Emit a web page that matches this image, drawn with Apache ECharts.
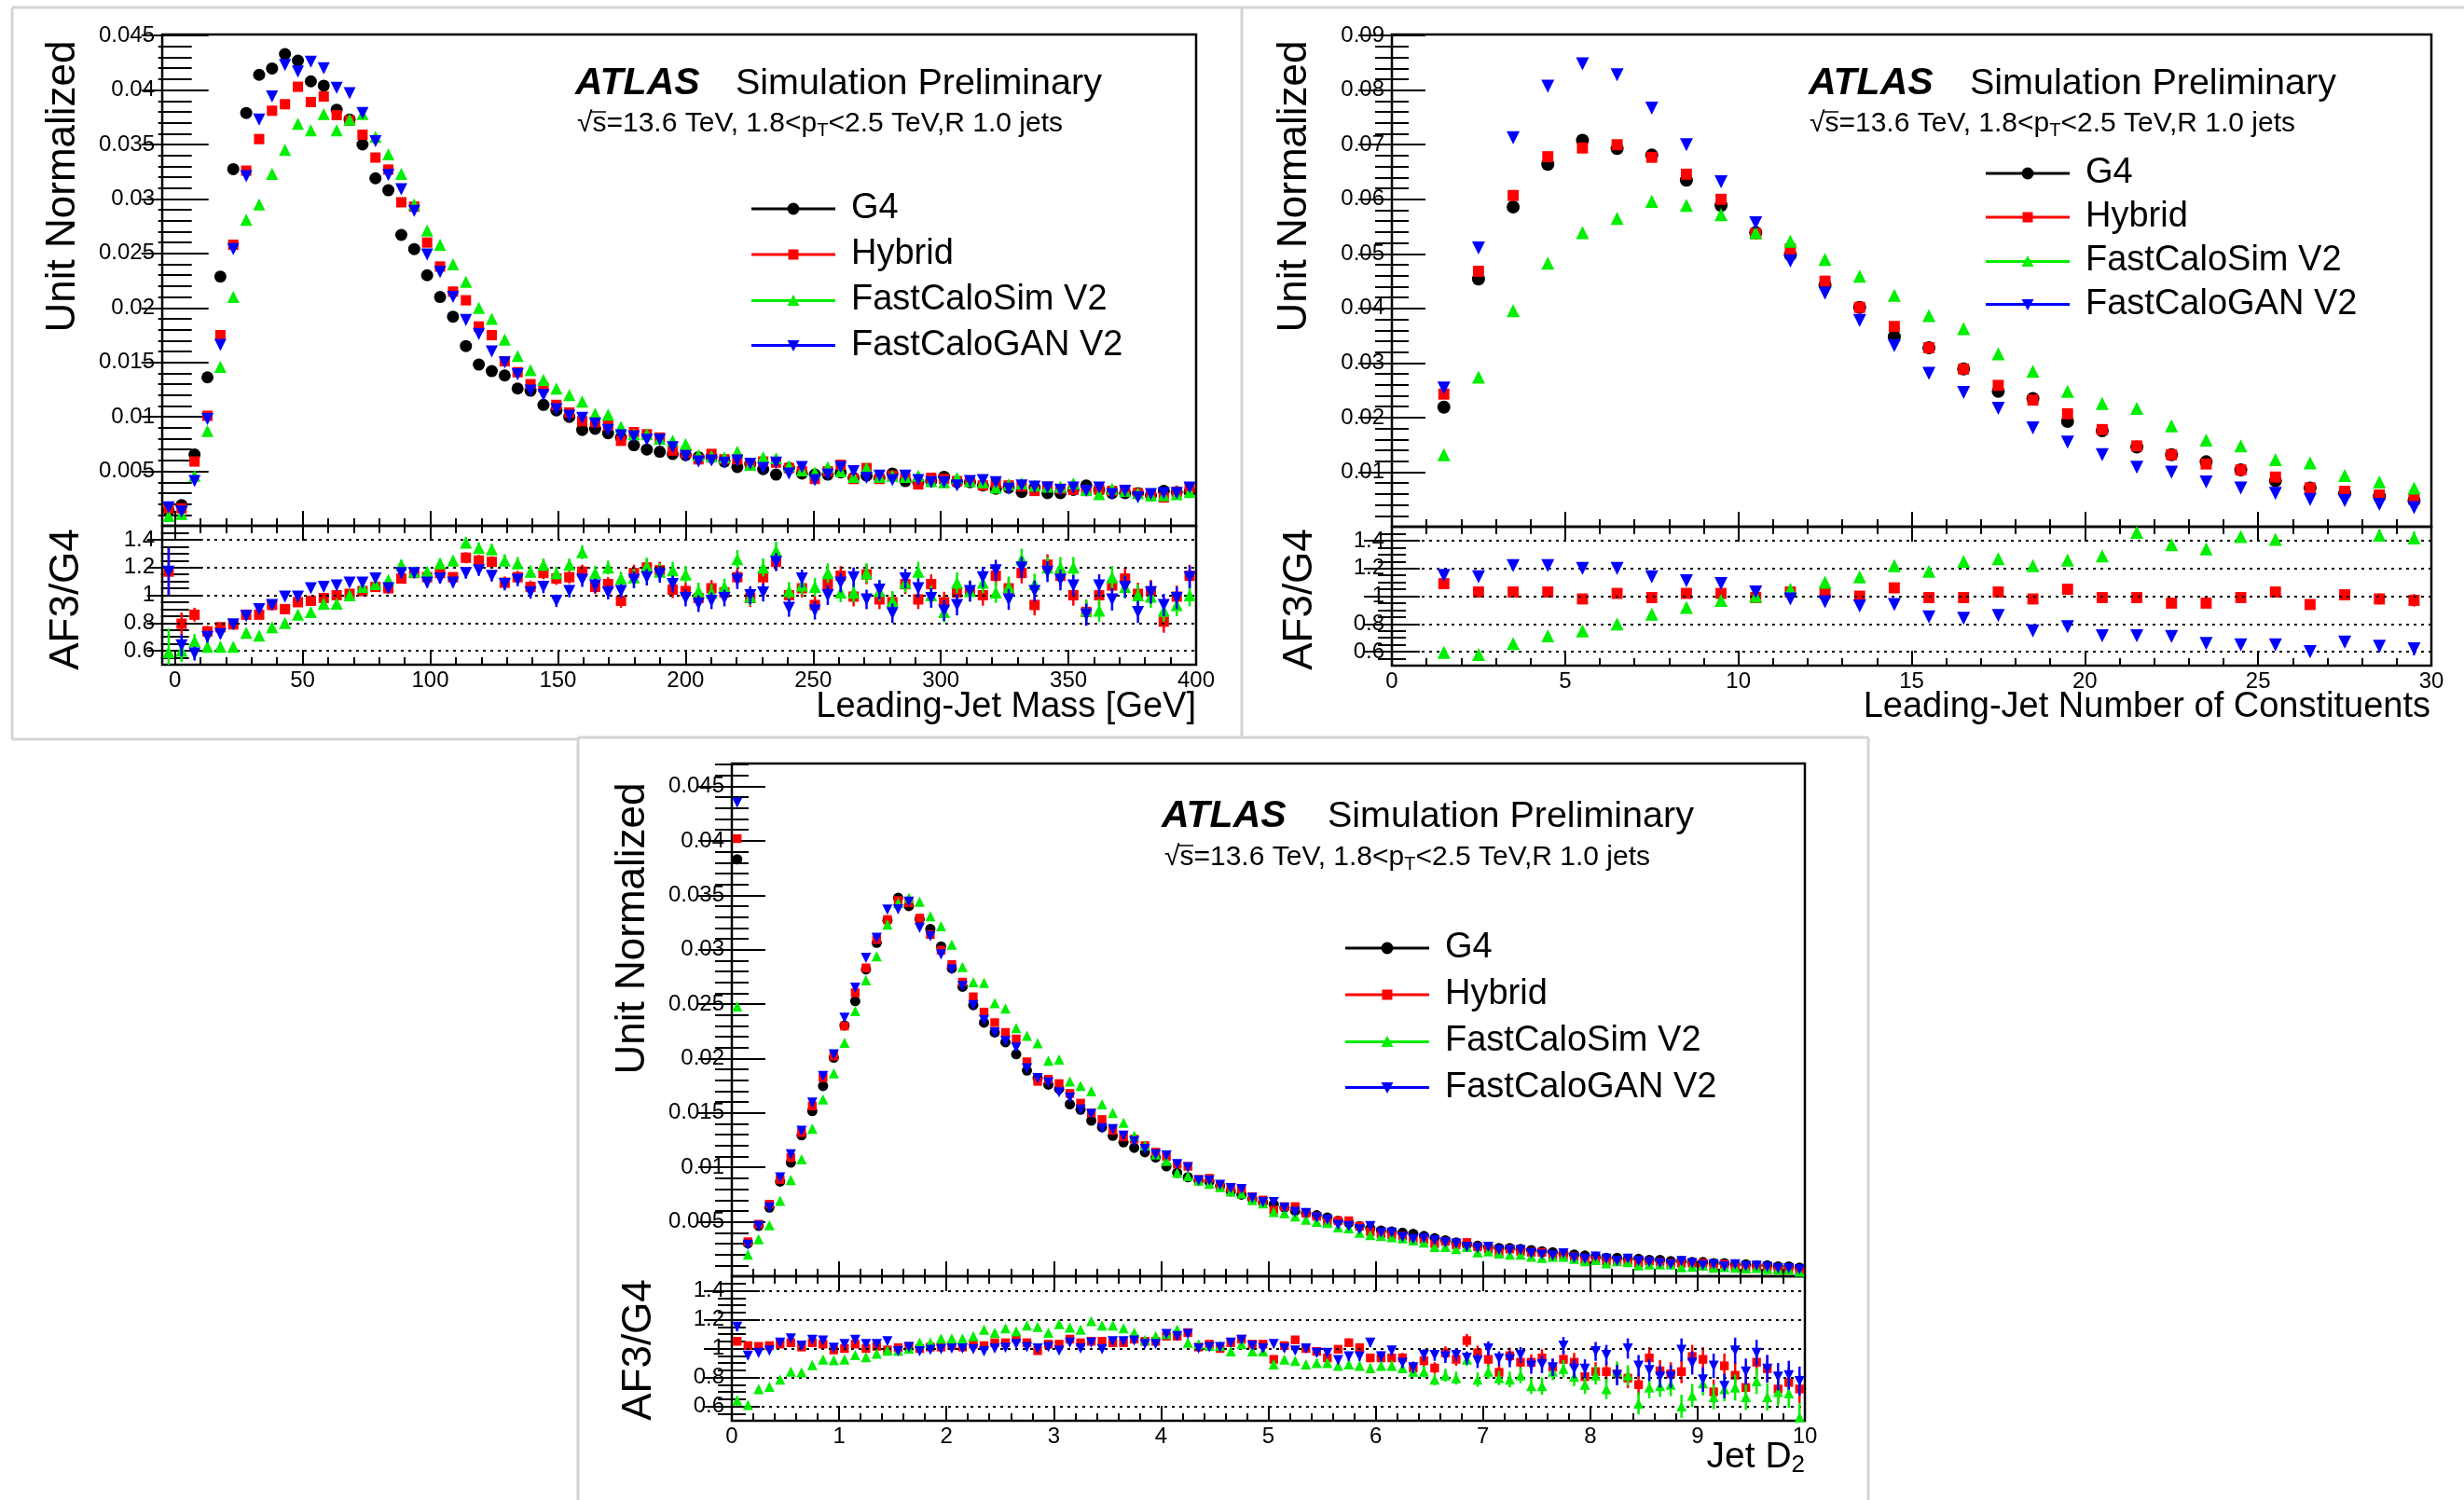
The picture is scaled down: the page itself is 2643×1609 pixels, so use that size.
<!DOCTYPE html>
<html><head><meta charset="utf-8">
<script src="https://cdn.jsdelivr.net/npm/echarts@6/dist/echarts.min.js"></script>
<style>html,body{margin:0;padding:0;background:#fff}#c{width:2643px;height:1609px}</style>
</head><body><div id="c"></div>
<script>
// ---------------- DATA ----------------
const seriesNames = ['G4', 'Hybrid', 'FastCaloSim V2', 'FastCaloGAN V2'];

// Leading-jet mass (bin centres, GeV)
const massX = [-2.47,2.59,7.66,12.72,17.78,22.84,27.91,32.97,38.03,43.09,
48.16,53.22,58.28,63.34,68.41,73.47,78.53,83.59,88.66,93.72,
98.78,103.84,108.91,113.97,119.03,124.09,129.16,134.22,139.28,144.34,
149.41,154.47,159.53,164.59,169.66,174.72,179.78,184.84,189.91,194.97,
200.03,205.09,210.16,215.22,220.28,225.34,230.41,235.47,240.53,245.59,
250.66,255.72,260.78,265.84,270.91,275.97,281.03,286.09,291.16,296.22,
301.28,306.34,311.41,316.47,321.53,326.59,331.66,336.72,341.78,346.84,
351.91,356.97,362.03,367.09,372.16,377.22,382.28,387.34,392.41,397.47];
const massG4 = [0.0014,0.0019,0.00654,0.01363,0.02288,0.03274,0.0379,0.0414,0.04198,0.0433,
0.0427,0.0408,0.0404,0.0382,0.0373,0.0350,0.0319,0.0308,0.0267,0.0254,
0.0230,0.0210,0.0192,0.0165,0.0148,0.0142,0.0138,0.0126,0.0124,0.0111,
0.0106,0.0100,0.0088,0.0089,0.0085,0.0081,0.0074,0.0070,0.0068,0.0066,
0.0065,0.0063,0.0063,0.0059,0.0054,0.0057,0.0052,0.0047,0.0053,0.0048,
0.0047,0.0047,0.0049,0.0044,0.0046,0.0044,0.0048,0.0041,0.0040,0.0041,
0.0045,0.0040,0.0040,0.0037,0.0034,0.0035,0.0031,0.0035,0.0030,0.0030,
0.0033,0.0037,0.0033,0.0030,0.0030,0.0030,0.0028,0.0032,0.0031,0.0031];
const massHybrid = [0.0016,0.0016,0.0059,0.0101,0.0175,0.0258,0.0326,0.0355,0.0381,0.0387,
0.0403,0.0389,0.0394,0.0377,0.0372,0.0359,0.0338,0.0327,0.0297,0.0293,
0.0260,0.0238,0.0215,0.0207,0.0183,0.0175,0.0151,0.0141,0.0130,0.0127,
0.0111,0.0104,0.0096,0.0095,0.0092,0.0078,0.0086,0.0084,0.0081,0.0069,
0.0067,0.0061,0.0066,0.0061,0.0061,0.0056,0.0059,0.0058,0.0053,0.0050,
0.0043,0.0050,0.0056,0.0043,0.0053,0.0043,0.0046,0.0044,0.0038,0.0044,
0.0043,0.0041,0.0041,0.0037,0.0039,0.0037,0.0036,0.0032,0.0036,0.0034,
0.0033,0.0032,0.0033,0.0032,0.0033,0.0030,0.0029,0.0026,0.0031,0.0035];
const massFCS = [0.0009,0.0011,0.0046,0.0087,0.0146,0.0210,0.0281,0.0295,0.0323,0.0345,
0.0369,0.0363,0.0378,0.0363,0.0373,0.0378,0.0357,0.0341,0.0323,0.0295,
0.0271,0.0258,0.0240,0.0224,0.0200,0.0190,0.0171,0.0156,0.0143,0.0134,
0.0126,0.0120,0.0114,0.0103,0.0102,0.0091,0.0084,0.0084,0.0080,0.0078,
0.0075,0.0065,0.0064,0.0063,0.0068,0.0056,0.0063,0.0062,0.0055,0.0051,
0.0049,0.0054,0.0050,0.0045,0.0053,0.0045,0.0046,0.0045,0.0046,0.0041,
0.0040,0.0044,0.0041,0.0040,0.0035,0.0038,0.0039,0.0037,0.0036,0.0036,
0.0039,0.0033,0.0029,0.0034,0.0032,0.0030,0.0028,0.0028,0.0029,0.0031];
const massGAN = [0.0017,0.0013,0.0041,0.0098,0.0166,0.0254,0.0321,0.0373,0.0394,0.0423,
0.0417,0.0426,0.0420,0.0402,0.0397,0.0379,0.0353,0.0322,0.0309,0.0289,
0.0249,0.0233,0.0210,0.0189,0.0176,0.0160,0.0150,0.0139,0.0124,0.0120,
0.0107,0.0101,0.0099,0.0094,0.0088,0.0083,0.0082,0.0079,0.0079,0.0072,
0.0064,0.0059,0.0060,0.0058,0.0060,0.0057,0.0053,0.0058,0.0048,0.0054,
0.0042,0.0047,0.0054,0.0050,0.0044,0.0046,0.0042,0.0046,0.0042,0.0040,
0.0040,0.0037,0.0041,0.0042,0.0040,0.0034,0.0037,0.0036,0.0035,0.0033,
0.0035,0.0032,0.0035,0.0029,0.0032,0.0026,0.0029,0.0030,0.0030,0.0035];
const massRatioHybrid = [1.17,0.795,0.86,0.74,0.77,0.79,0.86,0.86,0.93,0.90,
0.95,0.96,0.98,1.0,1.01,1.03,1.06,1.05,1.12,1.16,
1.13,1.16,1.13,1.27,1.25,1.24,1.09,1.13,1.06,1.16,
1.12,1.13,1.17,1.06,1.08,0.96,1.16,1.20,1.18,1.04,
1.03,0.98,1.05,1.02,1.13,0.98,1.13,1.24,1.0,1.05,
0.93,1.08,1.14,0.99,1.15,0.97,0.95,1.08,0.97,1.08,
0.95,1.02,1.03,1.0,1.14,1.05,1.16,0.93,1.22,1.14,
1.0,0.88,1.0,1.07,1.12,1.01,1.03,0.81,0.99,1.14];
const massRatioFCS = [0.59,0.60,0.67,0.63,0.63,0.63,0.73,0.71,0.77,0.80,
0.86,0.88,0.94,0.94,1.0,1.06,1.08,1.11,1.22,1.17,
1.17,1.23,1.25,1.38,1.34,1.33,1.25,1.23,1.17,1.22,
1.16,1.22,1.31,1.16,1.20,1.12,1.13,1.21,1.17,1.18,
1.15,1.03,1.02,1.06,1.26,0.99,1.20,1.32,1.03,1.07,
1.06,1.16,1.02,1.02,1.16,1.03,0.96,1.09,1.17,1.0,
0.88,1.09,1.03,1.09,1.02,1.06,1.26,1.08,1.20,1.20,
1.20,0.89,0.89,1.13,1.06,1.0,0.99,0.89,0.93,1.0];
const massRatioGAN = [1.17,0.64,0.58,0.70,0.72,0.79,0.85,0.90,0.93,0.99,
0.99,1.05,1.06,1.07,1.09,1.09,1.12,1.05,1.16,1.16,
1.09,1.12,1.09,1.16,1.18,1.14,1.08,1.11,1.02,1.06,
0.96,1.03,1.11,1.07,1.02,1.03,1.11,1.13,1.15,1.08,
0.98,0.94,0.96,0.98,1.11,1.0,1.02,1.24,0.91,1.12,
0.89,1.0,1.09,1.13,0.97,1.04,0.87,1.12,1.05,0.98,
0.89,0.93,1.03,1.13,1.18,0.97,1.20,1.03,1.17,1.11,
1.07,0.86,1.07,0.97,1.06,0.88,1.02,0.93,0.98,1.13];
// estimated half-length of the ratio error bars
const massRatioErr = [0.17,0.08,0.05,0.04,0.03,0.025,0.025,0.025,0.025,0.025,
0.025,0.025,0.025,0.025,0.025,0.025,0.025,0.025,0.035,0.035,
0.035,0.035,0.035,0.04,0.04,0.04,0.045,0.045,0.045,0.045,
0.045,0.045,0.05,0.05,0.05,0.05,0.06,0.06,0.06,0.06,
0.06,0.06,0.06,0.06,0.065,0.065,0.065,0.065,0.065,0.065,
0.065,0.07,0.07,0.07,0.07,0.07,0.07,0.07,0.07,0.07,
0.075,0.075,0.075,0.075,0.075,0.075,0.075,0.075,0.075,0.075,
0.075,0.08,0.08,0.08,0.08,0.08,0.08,0.08,0.08,0.08];

// Leading-jet number of constituents
const consX = [1.5,2.5,3.5,4.5,5.5,6.5,7.5,8.5,9.5,10.5,11.5,12.5,13.5,14.5,15.5,16.5,17.5,18.5,19.5,20.5,21.5,22.5,23.5,24.5,25.5,26.5,27.5,28.5,29.5];
const consG4 = [0.0219,0.0454,0.0586,0.0664,0.0708,0.0693,0.0681,0.0635,0.0589,0.0539,0.0498,0.0443,0.0402,0.0348,0.0328,0.0289,0.0248,0.0235,0.0193,0.0176,0.0146,0.0132,0.0119,0.0104,0.0084,0.0071,0.0061,0.0056,0.0048];
const consHybrid = [0.0243,0.0468,0.0607,0.0678,0.0694,0.0700,0.0677,0.0646,0.0600,0.0537,0.0509,0.0450,0.0402,0.0367,0.0328,0.0289,0.0259,0.0232,0.0207,0.0178,0.0148,0.0132,0.0115,0.0104,0.0091,0.0071,0.0065,0.0058,0.0050];
const consFCS = [0.0132,0.0274,0.0396,0.0483,0.0539,0.0565,0.0596,0.0589,0.0572,0.0539,0.0523,0.0490,0.0459,0.0424,0.0387,0.0363,0.0317,0.0285,0.0248,0.0226,0.0217,0.0185,0.0159,0.0148,0.0123,0.0117,0.0094,0.0082,0.0071];
const consGAN = [0.0254,0.0511,0.0713,0.0807,0.0848,0.0828,0.0767,0.0700,0.0632,0.0557,0.0487,0.0428,0.0378,0.0332,0.0281,0.0246,0.0217,0.0181,0.0155,0.0132,0.0109,0.0100,0.0082,0.0071,0.0061,0.0050,0.0048,0.0041,0.0035];
const consRatioHybrid = [1.09,1.03,1.03,1.03,0.98,1.02,0.99,1.02,1.02,0.99,1.03,1.02,1.0,1.06,0.99,0.99,1.03,0.98,1.05,0.99,0.99,0.95,0.95,0.99,1.03,0.94,1.01,0.98,0.97];
const consRatioFCS = [0.595,0.58,0.66,0.715,0.75,0.80,0.87,0.92,0.97,1.0,1.05,1.10,1.14,1.22,1.18,1.25,1.27,1.22,1.26,1.29,1.46,1.37,1.34,1.43,1.41,1.65,1.54,1.44,1.42];
const consRatioGAN = [1.15,1.14,1.22,1.22,1.20,1.20,1.14,1.11,1.09,1.03,0.98,0.96,0.93,0.94,0.85,0.84,0.86,0.75,0.78,0.715,0.715,0.71,0.66,0.65,0.65,0.60,0.67,0.64,0.62];
const consRatioErr = [0.02,0.015,0.01,0.01,0.01,0.01,0.01,0.01,0.01,0.01,0.01,0.01,0.01,0.01,0.012,0.012,0.015,0.015,0.015,0.02,0.02,0.02,0.025,0.025,0.03,0.035,0.035,0.04,0.045];

// Jet D2
const d2X = [0.05,0.15,0.25,0.35,0.45,0.55,0.65,0.75,0.85,0.95,
1.05,1.15,1.25,1.35,1.45,1.55,1.65,1.75,1.85,1.95,
2.05,2.15,2.25,2.35,2.45,2.55,2.65,2.75,2.85,2.95,
3.05,3.15,3.25,3.35,3.45,3.55,3.65,3.75,3.85,3.95,
4.05,4.15,4.25,4.35,4.45,4.55,4.65,4.75,4.85,4.95,
5.05,5.15,5.25,5.35,5.45,5.55,5.65,5.75,5.85,5.95,
6.05,6.15,6.25,6.35,6.45,6.55,6.65,6.75,6.85,6.95,
7.05,7.15,7.25,7.35,7.45,7.55,7.65,7.75,7.85,7.95,
8.05,8.15,8.25,8.35,8.45,8.55,8.65,8.75,8.85,8.95,
9.05,9.15,9.25,9.35,9.45,9.55,9.65,9.75,9.85,9.95];
const d2G4 = [0.0383,0.00304,0.00463,0.00631,0.0087,0.01044,0.01295,0.01518,0.01748,0.02008,
0.02304,0.02528,0.02818,0.03063,0.0327,0.03476,0.0340,0.0328,0.0319,0.0303,
0.0283,0.0266,0.0249,0.0233,0.0224,0.0215,0.0204,0.0189,0.0182,0.0176,
0.0172,0.0158,0.0153,0.0143,0.0137,0.0129,0.0123,0.0118,0.0114,0.0109,
0.0101,0.0095,0.0091,0.0088,0.0087,0.0083,0.0078,0.0075,0.0071,0.0068,
0.0066,0.0063,0.0060,0.0058,0.0056,0.0054,0.0051,0.0049,0.0046,0.0044,
0.0042,0.0041,0.0040,0.0039,0.0037,0.0035,0.0033,0.0031,0.0029,0.0028,
0.0027,0.0026,0.0026,0.0025,0.0024,0.0023,0.0022,0.0021,0.0020,0.0019,
0.0018,0.0017,0.0017,0.0016,0.0016,0.0015,0.0015,0.0014,0.0014,0.0013,
0.0013,0.0012,0.0012,0.0011,0.0011,0.0010,0.0010,0.0009,0.0009,0.0008];
const d2Hybrid = [0.0402,0.00317,0.00478,0.00662,0.0089,0.0109,0.0132,0.01564,0.01824,0.02023,
0.02298,0.02604,0.02833,0.03093,0.03277,0.03451,0.0343,0.0329,0.03139,0.02995,
0.02864,0.02702,0.02567,0.02427,0.0233,0.0224,0.0218,0.0197,0.0179,0.0181,
0.0177,0.0168,0.0159,0.0150,0.0144,0.0134,0.0128,0.0126,0.0120,0.0114,
0.0110,0.0103,0.0101,0.0089,0.0090,0.0083,0.0081,0.0080,0.0073,0.0070,
0.0061,0.0064,0.0064,0.0058,0.0055,0.0050,0.0051,0.0051,0.0046,0.0041,
0.0039,0.0038,0.0037,0.0034,0.0034,0.0030,0.0032,0.0029,0.0031,0.0027,
0.0025,0.0022,0.0025,0.0023,0.0022,0.0022,0.0019,0.0019,0.0018,0.0015,
0.0015,0.0014,0.0014,0.0013,0.0012,0.0014,0.0013,0.0012,0.0012,0.0012,
0.0012,0.00084,0.0011,0.0009,0.0008,0.0009,0.00086,0.00065,0.00069,0.00058];
const d2FCS = [0.0248,0.0020,0.00341,0.00469,0.00693,0.00885,0.01075,0.01356,0.01625,0.01864,
0.02145,0.02436,0.0272,0.0294,0.03231,0.0343,0.03476,0.0344,0.03307,0.03216,
0.03047,0.02842,0.02702,0.02696,0.0251,0.0246,0.0228,0.0221,0.0214,0.0198,
0.0199,0.0179,0.0175,0.0170,0.0158,0.0150,0.0141,0.0129,0.0120,0.0112,
0.0106,0.0095,0.0092,0.0088,0.0085,0.0082,0.0078,0.0076,0.0070,0.0067,
0.0059,0.0058,0.0055,0.0052,0.0050,0.0049,0.0045,0.0044,0.0040,0.0038,
0.0037,0.0036,0.0035,0.0033,0.0031,0.0027,0.0027,0.0025,0.0027,0.0022,
0.0023,0.0021,0.0020,0.0020,0.0018,0.0017,0.0018,0.0018,0.0016,0.0014,
0.0015,0.0012,0.0014,0.0013,0.0010,0.0011,0.0011,0.0011,0.00084,0.00088,
0.00099,0.0008,0.00086,0.0008,0.00073,0.00078,0.00067,0.00063,0.00062,0.00042];
const d2GAN = [0.0435,0.0029,0.00463,0.00631,0.00907,0.0112,0.01335,0.01595,0.0184,0.02038,
0.02375,0.0265,0.02925,0.03109,0.03368,0.0337,0.0344,0.0320,0.03124,0.02956,
0.02818,0.02665,0.0249,0.02353,0.0224,0.0216,0.0210,0.0191,0.0182,0.0178,
0.0169,0.0164,0.0153,0.0149,0.0136,0.0135,0.0129,0.0124,0.0117,0.0112,
0.0111,0.0103,0.0100,0.0088,0.0088,0.0084,0.0081,0.0080,0.0072,0.0068,
0.0068,0.0063,0.0059,0.0058,0.0054,0.0052,0.0047,0.0046,0.0043,0.0046,
0.0040,0.0040,0.0036,0.0034,0.0035,0.0033,0.0031,0.0030,0.0027,0.0026,
0.0027,0.0024,0.0024,0.0024,0.0021,0.0020,0.0019,0.0021,0.0017,0.0016,
0.0018,0.0016,0.0014,0.0016,0.0014,0.0013,0.0012,0.0011,0.0014,0.0012,
0.0010,0.0011,0.00089,0.0011,0.00092,0.00097,0.00086,0.00072,0.00073,0.00062];
const d2RatioHybrid = [1.05,1.02,1.015,1.02,1.03,1.04,1.01,1.04,1.03,0.99,
1.0,1.03,1.0,1.015,0.99,1.006,1.015,1.0,1.01,1.01,
1.02,1.01,1.03,1.02,1.04,1.04,1.07,1.04,0.985,1.03,
1.03,1.065,1.04,1.05,1.05,1.04,1.04,1.065,1.05,1.05,
1.085,1.085,1.11,1.01,1.03,1.0,1.04,1.065,1.03,1.03,
0.925,1.02,1.06,1.0,0.98,0.935,0.995,1.04,1.006,0.935,
0.935,0.935,0.935,0.865,0.915,0.865,0.97,0.925,1.055,0.97,
0.925,0.835,0.95,0.905,0.905,0.935,0.87,0.925,0.905,0.805,
0.84,0.84,0.825,0.795,0.75,0.935,0.845,0.825,0.84,0.945,
0.925,0.70,0.88,0.815,0.73,0.905,0.86,0.72,0.765,0.72];
const d2RatioFCS = [0.64,0.61,0.72,0.735,0.785,0.84,0.835,0.885,0.925,0.92,
0.925,0.955,0.94,0.965,0.985,0.985,1.0,1.04,1.04,1.07,
1.07,1.07,1.085,1.13,1.11,1.14,1.12,1.16,1.15,1.11,
1.17,1.145,1.13,1.19,1.16,1.16,1.14,1.11,1.06,1.085,
1.10,1.13,1.04,1.03,1.02,1.02,0.98,1.03,0.98,0.98,
0.89,0.925,0.915,0.89,0.90,0.90,0.88,0.89,0.88,0.865,
0.88,0.88,0.865,0.84,0.84,0.785,0.815,0.795,0.925,0.785,
0.84,0.795,0.785,0.815,0.74,0.74,0.84,0.86,0.805,0.75,
0.815,0.72,0.84,0.815,0.62,0.73,0.74,0.75,0.60,0.675,
0.76,0.665,0.72,0.73,0.665,0.775,0.665,0.70,0.69,0.525];
const d2RatioGAN = [1.15,0.95,0.97,0.985,1.04,1.07,1.02,1.06,1.055,1.005,
1.03,1.06,1.03,1.03,1.05,0.98,1.01,0.98,0.99,0.995,
1.0,1.0,0.995,0.98,1.0,1.005,1.03,1.01,1.0,1.01,
0.985,1.04,1.0,1.04,0.995,1.05,1.05,1.055,1.03,1.03,
1.10,1.085,1.10,1.0,1.01,1.01,1.04,1.06,1.02,1.0,
1.03,1.0,0.985,1.0,0.97,0.97,0.92,0.945,0.945,1.04,
0.945,0.985,0.90,0.87,0.955,0.955,0.945,0.955,0.935,0.915,
1.0,0.93,0.925,0.955,0.88,0.89,0.87,1.02,0.86,0.86,
0.98,0.955,0.815,1.0,0.88,0.85,0.805,0.805,0.99,0.90,
0.785,0.88,0.74,0.985,0.84,0.97,0.86,0.805,0.815,0.775];
const d2RatioErr = [0.03,0.02,0.015,0.015,0.01,0.01,0.01,0.01,0.01,0.01,
0.01,0.01,0.01,0.01,0.01,0.01,0.01,0.01,0.01,0.01,
0.01,0.01,0.01,0.01,0.01,0.01,0.01,0.01,0.01,0.01,
0.012,0.012,0.012,0.012,0.012,0.012,0.012,0.012,0.012,0.012,
0.015,0.015,0.015,0.015,0.015,0.015,0.015,0.015,0.015,0.015,
0.02,0.02,0.02,0.02,0.025,0.025,0.025,0.03,0.03,0.03,
0.035,0.035,0.035,0.04,0.04,0.04,0.045,0.045,0.045,0.05,
0.05,0.05,0.055,0.055,0.055,0.06,0.06,0.06,0.065,0.065,
0.065,0.07,0.07,0.07,0.075,0.075,0.075,0.08,0.08,0.08,
0.085,0.085,0.085,0.09,0.09,0.09,0.095,0.095,0.1,0.1];

// Tick labels
const massXTicks = [0,50,100,150,200,250,300,350,400];
const consXTicks = [0,5,10,15,20,25,30];
const d2XTicks = [0,1,2,3,4,5,6,7,8,9,10];
const yTicks045 = [0.005,0.01,0.015,0.02,0.025,0.03,0.035,0.04,0.045];
const yTicks09 = [0.01,0.02,0.03,0.04,0.05,0.06,0.07,0.08,0.09];
const ratioTicks = [0.6,0.8,1,1.2,1.4];

// ---------------- STYLE ----------------
const FONT = '"Liberation Sans", Arial, Helvetica, sans-serif';
const COLORS = ['#000000', '#ff0000', '#00ee00', '#0000ff'];
const SYMS = ['circle', 'rect', 'triangle', 'triangle'];
const ROT = [0, 0, 0, 180];
const SIZEF = [1.0, 0.85, 1.0, 1.0];

function steps(a, b, s, exclude) {
  const out = [];
  for (let v = a; v <= b + s * 1e-6; v += s) {
    const r = Math.round(v * 1e6) / 1e6;
    if (!exclude || !exclude.some(e => Math.abs(e - r) < s * 1e-3)) out.push(r);
  }
  return out;
}
const fmtNum = v => String(parseFloat(Number(v).toFixed(4)));

const grids = [], xAxes = [], yAxes = [], series = [];

function axis(isX, gi, pos, min, max, ticks, len, labels, margin) {
  const a = {
    type: 'value', gridIndex: gi, position: pos, min: min, max: max,
    axisLine: { show: false }, splitLine: { show: false },
    minorTick: { show: false }, minorSplitLine: { show: false },
    axisTick: { show: true, inside: true, length: len, customValues: ticks, lineStyle: { color: '#000', width: 2 } },
    axisLabel: labels ? { show: true, customValues: labels, formatter: fmtNum, color: '#000', fontSize: 24, fontFamily: FONT, margin: margin } : { show: false },
    silent: true
  };
  const arr = isX ? xAxes : yAxes;
  arr.push(a);
  return arr.length - 1;
}

function plot(p) {
  const gi = grids.length;
  grids.push({ left: p.left, top: p.top, width: p.width, height: p.height, show: true,
    borderColor: '#000', borderWidth: 2.5, backgroundColor: 'rgba(0,0,0,0)' });
  const xi = axis(true, gi, 'bottom', p.xMin, p.xMax, p.xMaj, p.xLen, p.xLabels ? p.xMaj : null, 5);
  axis(true, gi, 'bottom', p.xMin, p.xMax, p.xMinr, p.xLen / 2, null);
  axis(true, gi, 'top', p.xMin, p.xMax, p.xMaj, p.xLen, null);
  axis(true, gi, 'top', p.xMin, p.xMax, p.xMinr, p.xLen / 2, null);
  const yi = axis(false, gi, 'left', p.yMin, p.yMax, p.yMaj, p.yLen, p.yMaj, 8);
  axis(false, gi, 'left', p.yMin, p.yMax, p.yMinr, p.yLen / 2, null);
  axis(false, gi, 'right', p.yMin, p.yMax, p.yMaj, p.yLen, null);
  axis(false, gi, 'right', p.yMin, p.yMax, p.yMinr, p.yLen / 2, null);
  return { xi: xi, yi: yi };
}

function addErr(ax, xs, ys, errs, idx) {
  series.push({
    type: 'custom', name: '_err', xAxisIndex: ax.xi, yAxisIndex: ax.yi, silent: true, clip: true, z: 3 + idx,
    data: xs.map((x, i) => [x, ys[i], errs[i]]),
    encode: { x: 0, y: 1 },
    renderItem: function (params, api) {
      const x = api.value(0), y = api.value(1), e = api.value(2);
      const a = api.coord([x, y - e]), b = api.coord([x, y + e]);
      return { type: 'line', shape: { x1: a[0], y1: a[1], x2: b[0], y2: b[1] }, style: { stroke: COLORS[idx], lineWidth: 2.5 } };
    }
  });
}
function addSeries(ax, xs, ys, idx, size) {
  series.push({
    type: 'scatter', name: seriesNames[idx], xAxisIndex: ax.xi, yAxisIndex: ax.yi,
    data: xs.map((x, i) => [x, ys[i]]),
    symbol: SYMS[idx], symbolRotate: ROT[idx], symbolSize: size * SIZEF[idx],
    itemStyle: { color: COLORS[idx], opacity: 1 }, z: 3 + idx, clip: true, silent: true,
    emphasis: { disabled: true }
  });
}
function addRatioLines(ax) {
  series.push({
    type: 'scatter', name: '_grid', xAxisIndex: ax.xi, yAxisIndex: ax.yi, data: [], z: 1, silent: true,
    markLine: { silent: true, symbol: ['none', 'none'], label: { show: false }, animation: false,
      lineStyle: { color: '#000', type: [3, 5], width: 2 },
      data: ratioTicks.map(v => ({ yAxis: v })) }
  });
}

// ---- Panel 1: mass ----
const massXMinor = steps(10, 390, 10, massXTicks);
const p1m = plot({ left: 174, top: 37, width: 1109, height: 527, xMin: -5, xMax: 400, xMaj: massXTicks, xMinr: massXMinor, xLen: 16, xLabels: false,
  yMin: 0, yMax: 0.0451, yMaj: yTicks045, yMinr: steps(0.001, 0.045, 0.001, yTicks045), yLen: 36 });
const p1r = plot({ left: 174, top: 564, width: 1109, height: 149, xMin: -5, xMax: 400, xMaj: massXTicks, xMinr: massXMinor, xLen: 16, xLabels: true,
  yMin: 0.5, yMax: 1.5, yMaj: ratioTicks, yMinr: steps(0.55, 1.45, 0.05, ratioTicks), yLen: 30 });
// ---- Panel 2: constituents ----
const consXMinor = steps(1, 29, 1, consXTicks);
const p2m = plot({ left: 1493, top: 37, width: 1115, height: 528, xMin: 0, xMax: 30, xMaj: consXTicks, xMinr: consXMinor, xLen: 16, xLabels: false,
  yMin: 0, yMax: 0.0902, yMaj: yTicks09, yMinr: steps(0.002, 0.09, 0.002, yTicks09), yLen: 36 });
const p2r = plot({ left: 1493, top: 565, width: 1115, height: 149, xMin: 0, xMax: 30, xMaj: consXTicks, xMinr: consXMinor, xLen: 16, xLabels: true,
  yMin: 0.5, yMax: 1.5, yMaj: ratioTicks, yMinr: steps(0.55, 1.45, 0.05, ratioTicks), yLen: 30 });
// ---- Panel 3: D2 ----
const d2XMinor = steps(0.2, 9.8, 0.2, d2XTicks);
const p3m = plot({ left: 785, top: 819, width: 1151, height: 550, xMin: 0, xMax: 10, xMaj: d2XTicks, xMinr: d2XMinor, xLen: 16, xLabels: false,
  yMin: 0, yMax: 0.0471, yMaj: yTicks045, yMinr: steps(0.001, 0.047, 0.001, yTicks045), yLen: 36 });
const p3r = plot({ left: 785, top: 1369, width: 1151, height: 155, xMin: 0, xMax: 10, xMaj: d2XTicks, xMinr: d2XMinor, xLen: 16, xLabels: true,
  yMin: 0.5, yMax: 1.5, yMaj: ratioTicks, yMinr: steps(0.55, 1.45, 0.05, ratioTicks), yLen: 30 });

addRatioLines(p1r); addRatioLines(p2r); addRatioLines(p3r);

[massG4, massHybrid, massFCS, massGAN].forEach((ys, i) => addSeries(p1m, massX, ys, i, 13));
[massRatioHybrid, massRatioFCS, massRatioGAN].forEach((ys, i) => { addErr(p1r, massX, ys, massRatioErr, i + 1); addSeries(p1r, massX, ys, i + 1, 13); });
[consG4, consHybrid, consFCS, consGAN].forEach((ys, i) => addSeries(p2m, consX, ys, i, 14));
[consRatioHybrid, consRatioFCS, consRatioGAN].forEach((ys, i) => { addErr(p2r, consX, ys, consRatioErr, i + 1); addSeries(p2r, consX, ys, i + 1, 14); });
[d2G4, d2Hybrid, d2FCS, d2GAN].forEach((ys, i) => addSeries(p3m, d2X, ys, i, 11));
[d2RatioHybrid, d2RatioFCS, d2RatioGAN].forEach((ys, i) => { addErr(p3r, d2X, ys, d2RatioErr, i + 1); addSeries(p3r, d2X, ys, i + 1, 11); });

// ---- Legends ----
const PAD = 'M102,6.5L102,6.5Z';
const ICONS = [
  'path://M0,5H90V8H0Z M38.5,6.5A6.5,6.5 0 1 1 51.5,6.5A6.5,6.5 0 1 1 38.5,6.5Z ' + PAD,
  'path://M0,5H90V8H0Z M39.5,1H50.5V12H39.5Z ' + PAD,
  'path://M0,5H90V8H0Z M45,0L51.5,12L38.5,12Z ' + PAD,
  'path://M0,5H90V8H0Z M38.5,1L51.5,1L45,13Z ' + PAD
];
function legend(left, top, gap) {
  return { show: true, orient: 'vertical', left: left, top: top, itemWidth: 102, itemHeight: 13, itemGap: gap, padding: 0,
    selectedMode: false, symbolRotate: 0, symbolKeepAspect: true,
    textStyle: { fontSize: 38, fontFamily: FONT, color: '#000', lineHeight: 40 },
    data: seriesNames.map((n, i) => ({ name: n, icon: ICONS[i] })) };
}

// ---- Texts ----
function txt(x, y, text, o) {
  o = o || {};
  return { type: 'text', x: x, y: y, rotation: o.rot || 0, silent: true, z: 50,
    style: { text: text, fontSize: o.size || 40, fontFamily: FONT, fontWeight: o.weight || 'normal', fontStyle: o.style || 'normal',
      fill: '#000', align: o.align || 'left', verticalAlign: 'middle', textAlign: o.align || 'left', textVerticalAlign: 'middle', rich: o.rich } };
}
const subRich = { a: { fontSize: 30, fontFamily: FONT, fill: '#000', lineHeight: 34 }, b: { fontSize: 20, fontFamily: FONT, fill: '#000', lineHeight: 11, verticalAlign: 'bottom' } };
const subtitle = '{a|\u221As=13.6 TeV, 1.8<p}{b|T}{a|<2.5 TeV,R 1.0 jets}';
function header(ax, sx, ex, y, sy) {
  return [
    txt(ax, y, 'ATLAS', { size: 41, weight: 'bold', style: 'italic' }),
    txt(sx, y, 'Simulation Preliminary', { size: 39.5 }),
    txt(ex, sy, subtitle, { rich: subRich }),
    // overline of the square-root sign
    { type: 'line', silent: true, z: 50, shape: { x1: ex + 15, y1: sy - 13, x2: ex + 31, y2: sy - 13 }, style: { stroke: '#000', lineWidth: 1.5 } }
  ];
}
const frameColor = '#d4d4d4';
function ln(x1, y1, x2, y2) { return { type: 'line', silent: true, z: 0, shape: { x1: x1, y1: y1, x2: x2, y2: y2 }, style: { stroke: frameColor, lineWidth: 3 } }; }

const graphics = [].concat(
  [ln(13, 8, 2643, 8), ln(13, 8, 13, 793), ln(13, 793, 620, 793), ln(1332, 8, 1332, 791),
   ln(620, 791, 2004, 791), ln(620, 791, 620, 1609), ln(2004, 791, 2004, 1609)],
  header(617, 789, 619, 90, 133),
  header(1940, 2113, 1941, 90, 133),
  header(1246, 1424, 1249, 876, 920),
  [
    txt(68, 200, 'Unit Normalized', { size: 44, rot: Math.PI / 2, align: 'center' }),
    txt(72, 643, 'AF3/G4', { size: 44, rot: Math.PI / 2, align: 'center' }),
    txt(1389, 200, 'Unit Normalized', { size: 44, rot: Math.PI / 2, align: 'center' }),
    txt(1395, 643, 'AF3/G4', { size: 44, rot: Math.PI / 2, align: 'center' }),
    txt(679, 996, 'Unit Normalized', { size: 44, rot: Math.PI / 2, align: 'center' }),
    txt(686, 1448, 'AF3/G4', { size: 44, rot: Math.PI / 2, align: 'center' }),
    txt(1283, 759, 'Leading-Jet Mass [GeV]', { size: 38, align: 'right' }),
    txt(2607, 759, 'Leading-Jet Number of Constituents', { size: 38, align: 'right' }),
    txt(1936, 1563, '{a|Jet D}{b|2}', { align: 'right', rich: { a: { fontSize: 39, fontFamily: FONT, fill: '#000', lineHeight: 44 }, b: { fontSize: 26, fontFamily: FONT, fill: '#000', lineHeight: 14, verticalAlign: 'bottom' } } })
  ]
);

const chart = echarts.init(document.getElementById('c'), null, { renderer: 'canvas', width: 2643, height: 1609 });
chart.setOption({
  animation: false,
  backgroundColor: '#ffffff',
  grid: grids, xAxis: xAxes, yAxis: yAxes, series: series,
  legend: [legend(806, 204, 9), legend(2130, 166, 7), legend(1443, 997, 10)],
  graphic: graphics
});
</script></body></html>
